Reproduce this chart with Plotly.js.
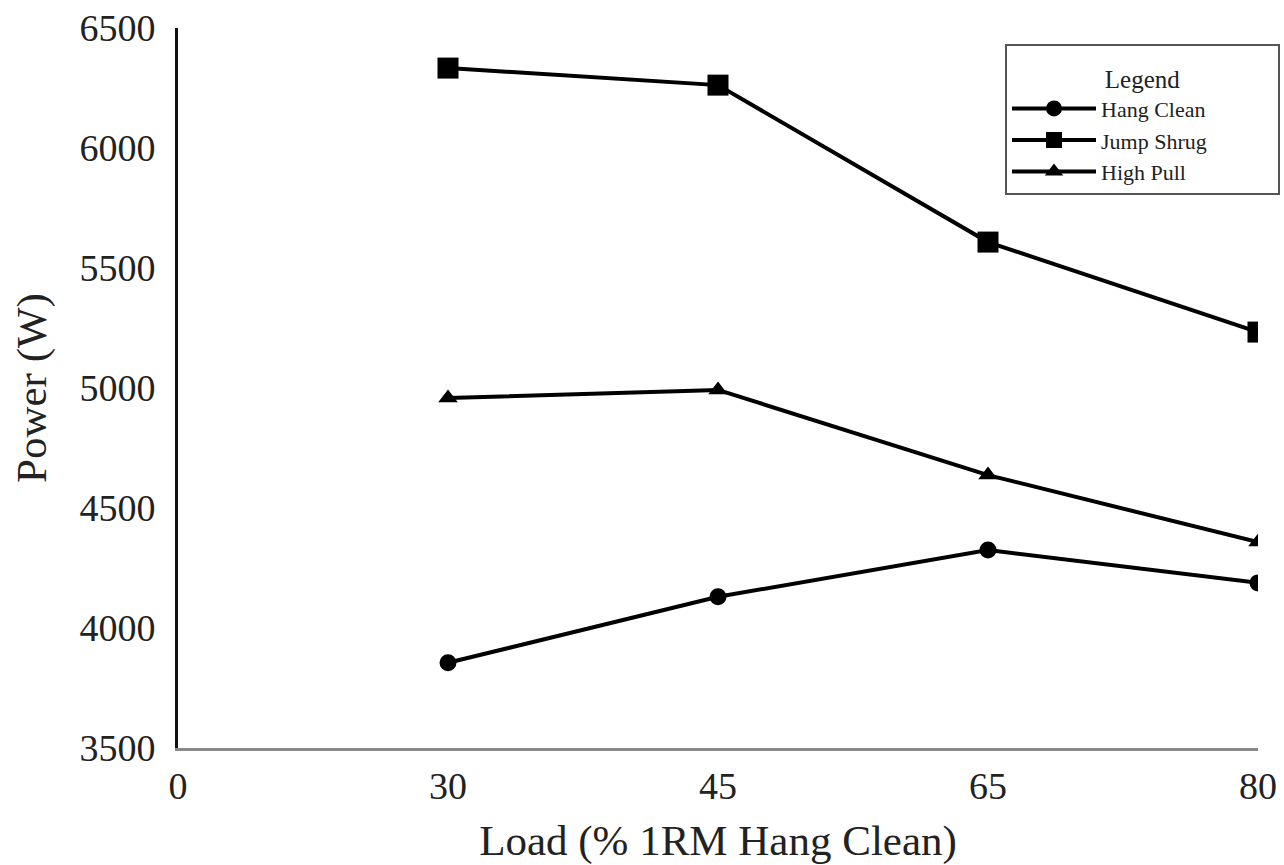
<!DOCTYPE html>
<html>
<head>
<meta charset="utf-8">
<script src="https://cdn.plot.ly/plotly-3.0.1.min.js"></script>
<style>html,body{margin:0;padding:0;background:#fff;}#chart{width:1284px;height:865px;}</style>
</head>
<body>
<div id="chart"></div>
<script>
const xCategories = ['0', '30', '45', '65', '80'];
const loads = ['30', '45', '65', '80'];
const seriesNames = ['Hang Clean', 'Jump Shrug', 'High Pull'];
const hangClean = [3855, 4130, 4325, 4188];
const jumpShrug = [6333, 6262, 5608, 5233];
const highPull = [4958, 4992, 4637, 4358];
const yTicks = [3500, 4000, 4500, 5000, 5500, 6000, 6500];

const serif = 'Liberation Serif, Times New Roman, serif';
const lineStyle = {color: '#000', width: 4};
const pad = '\u00a0'.repeat(12);

const traces = [
  {x: xCategories, y: xCategories.map(() => null), mode: 'markers', showlegend: false, hoverinfo: 'skip', marker: {opacity: 0}},
  {x: loads, y: hangClean, name: seriesNames[0] + pad, mode: 'lines+markers', line: lineStyle,
   marker: {symbol: 'circle', size: 17, color: '#000'}},
  {x: loads, y: jumpShrug, name: seriesNames[1] + pad, mode: 'lines+markers', line: lineStyle,
   marker: {symbol: 'square', size: 21, color: '#000'}},
  {x: loads, y: highPull, name: seriesNames[2] + pad, mode: 'lines+markers', line: lineStyle,
   marker: {symbol: 'triangle-up', size: 17, color: '#000'}}
];

const layout = {
  width: 1284, height: 865,
  margin: {l: 178, r: 26, t: 28, b: 117, autoexpand: false},
  paper_bgcolor: '#fff', plot_bgcolor: '#fff',
  font: {family: serif, color: '#222'},
  xaxis: {
    type: 'category', categoryorder: 'array', categoryarray: xCategories,
    range: [0, 4], showgrid: false, zeroline: false, automargin: false,
    showline: true, linecolor: '#888', linewidth: 3,
    ticks: '', ticklabelstandoff: 2, tickfont: {size: 38, family: serif, color: '#222'},
    title: {text: 'Load (% 1RM Hang Clean)', font: {size: 43, family: serif, color: '#222'}, standoff: 24}
  },
  yaxis: {
    range: [3500, 6500], tickvals: yTicks, showgrid: false, zeroline: false, automargin: false,
    showline: true, linecolor: '#111', linewidth: 3,
    ticks: '', ticklabelstandoff: 12, tickfont: {size: 38, family: serif, color: '#222'},
    title: {text: 'Power (W)', font: {size: 43, family: serif, color: '#222'}, standoff: 20}
  },
  legend: {
    xref: 'container', yref: 'container',
    x: 1005 / 1284, y: 1 - 44 / 865, xanchor: 'left', yanchor: 'top',
    bgcolor: '#fff', bordercolor: '#555', borderwidth: 2,
    font: {size: 22, family: serif, color: '#222'},
    title: {text: '<span style="font-size:25px">Legend</span>', side: 'top center', font: {size: 32, family: serif, color: '#222'}},
    itemwidth: 84, tracegroupgap: 0
  },
  showlegend: true
};

Plotly.newPlot('chart', traces, layout, {displayModeBar: false, staticPlot: true});
</script>
</body>
</html>
